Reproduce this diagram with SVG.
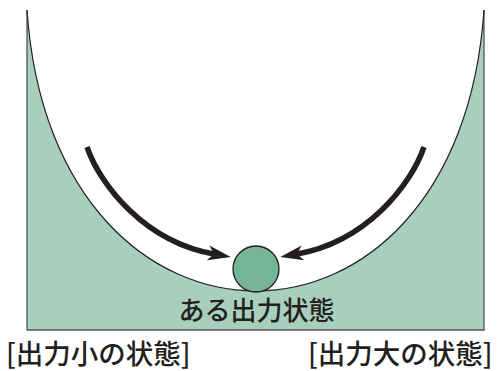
<svg xmlns="http://www.w3.org/2000/svg" width="498" height="371" viewBox="0 0 498 371">
  <style>
    .lbl { font-family: "Noto Sans CJK JP", "Noto Sans", sans-serif; font-weight: 500; fill: #231f20; }
    .arrow { fill: none; stroke: #231f20; stroke-width: 5.5; stroke-linecap: butt; marker-end: url(#head); }
  </style>
  <defs>
    <marker id="head" markerUnits="userSpaceOnUse" markerWidth="30" markerHeight="20" viewBox="0 -10 30 20" refX="6" refY="0" orient="auto">
      <path d="M0,-7.5 L23,0 L0,7.5 L6,0 Z" fill="#231f20"/>
    </marker>
  </defs>
  <rect width="498" height="371" fill="#ffffff"/>
  <g id="valley">
    <path d="M27,10 C40,200 150,291 256,291 C362,291 471,200 484,10 L484,330 L27,330 Z" fill="#a8cfbd"/>
    <path d="M27,10 V330 H484 V10" fill="none" stroke="#555555" stroke-width="1.3"/>
    <path d="M27,10 C40,200 150,291 256,291 C362,291 471,200 484,10" fill="none" stroke="#231f20" stroke-width="1.2"/>
  </g>
  <g id="connectors">
    <path class="arrow" d="M87,147 C100,185 145,242 214,254"/>
    <path class="arrow" d="M424,147 C411,185 366,242 297,254"/>
  </g>
  <g id="ball">
    <circle cx="256" cy="269" r="23" fill="#74b593" stroke="#231f20" stroke-width="1.3"/>
  </g>
  <g id="state-label">
    <text class="lbl" x="256.5" y="320" font-size="26" text-anchor="middle">ある出力状態</text>
  </g>
  <g id="label-small">
    <text class="lbl" x="6" y="364" font-size="27.5">[出力小の状態]</text>
  </g>
  <g id="label-large">
    <text class="lbl" x="308" y="364" font-size="27.5">[出力大の状態]</text>
  </g>
</svg>
